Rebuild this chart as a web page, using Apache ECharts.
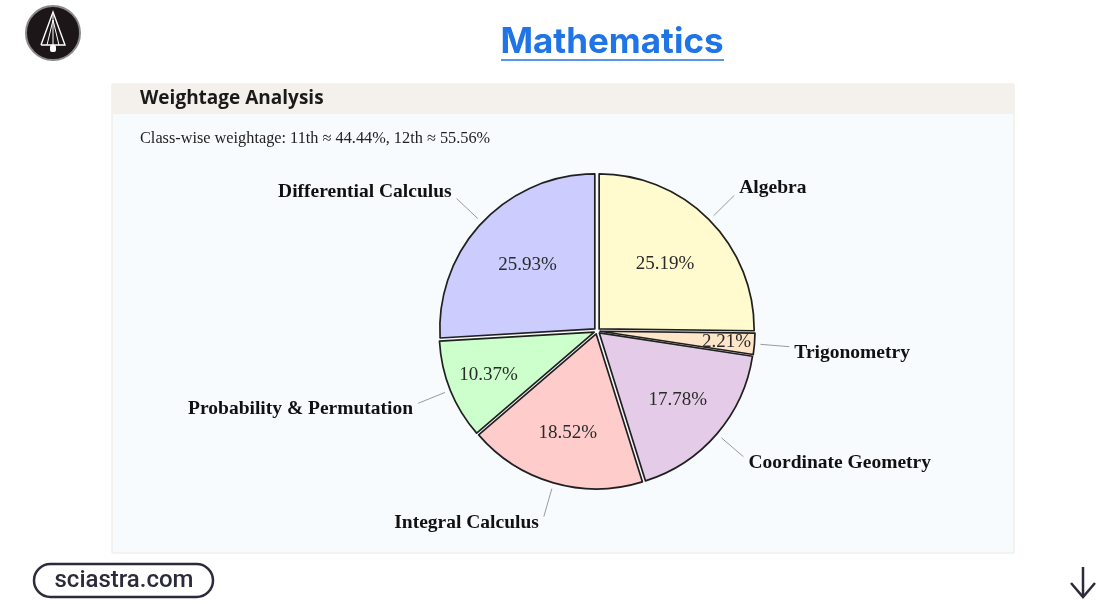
<!DOCTYPE html>
<html>
<head>
<meta charset="utf-8">
<script src="https://cdn.jsdelivr.net/npm/echarts@6/dist/echarts.min.js"></script>
<style>
html,body{margin:0;padding:0;background:#ffffff;}
#chart{width:1119px;height:604px;}
</style>
</head>
<body>
<div id="chart"></div>
<script>
// ---- data ----
const categories = ['Algebra', 'Trigonometry', 'Coordinate Geometry', 'Integral Calculus', 'Probability & Permutation', 'Differential Calculus'];
const shares = [25.19, 2.21, 17.78, 18.52, 10.37, 25.93];
const pageTitle = 'Mathematics';
const panelTitle = 'Weightage Analysis';
const subtitle = 'Class-wise weightage: 11th \u2248 44.44%, 12th \u2248 55.56%';
const brand = 'sciastra.com';

// ---- styling ----
const sliceColors = ['#fffbcf', '#ffe6c8', '#e4cbe8', '#ffcccc', '#ccffcc', '#ccccff'];
// inner radius of the ring whose middle carries each percentage label
const pctRingInner = [30, 99, 52, 52, 73, 30];

const chart = echarts.init(document.getElementById('chart'), null, {renderer: 'canvas'});
const CENTER = [597, 331];
const R = 155;
const SERIF = '"Liberation Serif", "Times New Roman", serif';
const clear = {color: 'rgba(0,0,0,0)', borderWidth: 0};

const common = {
  type: 'pie', center: CENTER, startAngle: 90, clockwise: true,
  avoidLabelOverlap: false, animation: false, emphasis: {disabled: true}
};

const sliceSeries = Object.assign({}, common, {
  name: 'slices', radius: [0, R],
  selectedMode: 'multiple', selectedOffset: 3,
  itemStyle: {borderColor: '#202020', borderWidth: 1.7},
  select: {itemStyle: {borderColor: '#202020', borderWidth: 1.7}},
  label: {show: false}, labelLine: {show: false},
  data: categories.map((name, i) => ({
    name, value: shares[i], selected: true, itemStyle: {color: sliceColors[i]}
  }))
});

// percentage labels, one transparent ring per distinct label radius
const rings = Array.from(new Set(pctRingInner));
const pctSeries = rings.map(inner => Object.assign({}, common, {
  name: 'pct' + inner, radius: [inner, R], silent: true, z: 5,
  itemStyle: clear,
  label: {show: true, position: 'inside', formatter: '{c}%', color: '#2a2a2a', fontFamily: SERIF, fontSize: 19},
  labelLine: {show: false},
  data: categories.map((name, i) => ({
    name, value: shares[i], label: {show: pctRingInner[i] === inner}
  }))
}));

const nameSeries = Object.assign({}, common, {
  name: 'names', radius: [0, R + 9], silent: true, z: 5,
  itemStyle: clear,
  label: {show: true, position: 'outside', formatter: '{b}', color: '#111111', fontFamily: SERIF, fontSize: 19.5, fontWeight: 'bold'},
  labelLine: {show: true, length: 29, length2: 0, lineStyle: {color: '#9a9a9a', width: 1}},
  labelLayout: function (p) {
    const pts = p.labelLinePoints;
    if (!pts || pts.length < 2) return {};
    const vy = pts[1][1] - pts[0][1];
    return {dy: vy >= 0 ? 6 : -7, labelLinePoints: pts};
  },
  data: categories.map((name, i) => ({name, value: shares[i]}))
});

chart.setOption({
  backgroundColor: '#ffffff',
  animation: false,
  graphic: [
    // panel
    {type: 'rect', z: -10, shape: {x: 112, y: 84, width: 902, height: 469},
     style: {fill: '#f8fbfe', stroke: '#ece8df', lineWidth: 1}},
    {type: 'rect', z: -9, shape: {x: 112, y: 84, width: 902, height: 30},
     style: {fill: '#f4f1ec'}},
    {type: 'text', z: -8, x: 140, y: 99,
     style: {text: panelTitle, fill: '#1a1a1a', font: 'bold 19px "Open Sans", Lato, sans-serif', textVerticalAlign: 'middle'}},
    {type: 'text', z: -8, x: 140, y: 139,
     style: {text: subtitle, fill: '#222222', font: '16.3px ' + SERIF, textVerticalAlign: 'middle'}},
    // page title
    {type: 'text', z: -8, x: 612, y: 42,
     style: {text: pageTitle, fill: '#1f74e6', font: 'bold 35px Inter, Lato, sans-serif', textAlign: 'center', textVerticalAlign: 'middle'}},
    {type: 'line', z: -8, shape: {x1: 501, y1: 60, x2: 724, y2: 60},
     style: {stroke: '#1f74e6', lineWidth: 1.5}},
    // logo
    {type: 'circle', z: -8, shape: {cx: 53, cy: 33, r: 27},
     style: {fill: '#1c1619', stroke: '#8a8a8a', lineWidth: 2}},
    {type: 'polyline', z: -7, shape: {points: [[41, 45], [53, 12], [65, 45], [41, 45]]},
     style: {stroke: '#ffffff', lineWidth: 1.4, fill: null}},
    {type: 'polyline', z: -7, shape: {points: [[47, 45], [53, 20], [59, 45]]},
     style: {stroke: '#ffffff', lineWidth: 1, fill: null}},
    {type: 'line', z: -7, shape: {x1: 53, y1: 14, x2: 53, y2: 45},
     style: {stroke: '#ffffff', lineWidth: 1}},
    {type: 'rect', z: -7, shape: {x: 50, y: 45, width: 6, height: 7, r: 2},
     style: {fill: '#ffffff'}},
    // brand pill
    {type: 'rect', z: -8, shape: {x: 34, y: 564, width: 179, height: 33, r: 16.5},
     style: {fill: '#ffffff', stroke: '#2b2b3b', lineWidth: 2.5}},
    {type: 'text', z: -7, x: 124, y: 581,
     style: {text: brand, fill: '#2b2b3b', font: '500 24px Roboto, sans-serif', textAlign: 'center', textVerticalAlign: 'middle'}},
    // down arrow
    {type: 'line', z: -8, shape: {x1: 1083, y1: 567, x2: 1083, y2: 597},
     style: {stroke: '#2b2b3b', lineWidth: 2.5}},
    {type: 'polyline', z: -8, shape: {points: [[1071, 583], [1083, 597], [1095, 583]]},
     style: {stroke: '#2b2b3b', lineWidth: 2.5, fill: null}}
  ],
  series: [sliceSeries].concat(pctSeries, [nameSeries])
});
</script>
</body>
</html>
